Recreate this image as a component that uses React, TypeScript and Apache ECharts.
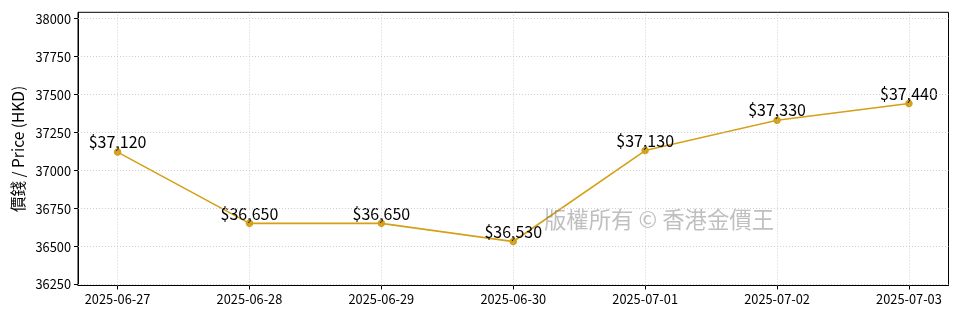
import React, { useEffect, useRef } from "react";
import * as echarts from "echarts";

const dates = ["2025-06-27", "2025-06-28", "2025-06-29", "2025-06-30", "2025-07-01", "2025-07-02", "2025-07-03"];
const prices = [37120, 36650, 36650, 36530, 37130, 37330, 37440];
const yTicks = [36250, 36500, 36750, 37000, 37250, 37500, 37750, 38000];
const yMin = 36240;
const yMax = 38042;
const yTitle = "價錢 / Price (HKD)";
const watermark = "版權所有 © 香港金價王";

const FONT = "'Noto Sans CJK TC', 'Noto Sans', sans-serif";
const GOLD = "#D4A017";
const GRID = "#c4c4c4";

export default function App() {
  const ref = useRef<HTMLDivElement>(null);
  useEffect(() => {
    if (!ref.current) return;
    const chart = echarts.init(ref.current, null, { renderer: "svg" });
    const idx = dates.map((_, i) => i);
    const gridLineStyle = { color: GRID, width: 0.8, type: [1, 2] as any };
    chart.setOption({
      animation: false,
      textStyle: { fontFamily: FONT },
      grid: {
        left: 78,
        right: 11.5,
        top: 12.3,
        bottom: 34.5,
        show: true,
        borderColor: "#000",
        borderWidth: 1,
      },
      xAxis: {
        type: "value",
        min: -0.3,
        max: 6.3,
        splitLine: { show: false },
        axisLine: { show: true, onZero: false, lineStyle: { color: "#000", width: 1 } },
        axisTick: { show: true, customValues: idx, length: 4, lineStyle: { color: "#000" } },
        axisLabel: {
          customValues: idx,
          formatter: (v: number) => dates[Math.round(v)] ?? "",
          color: "#000",
          fontSize: 12.8,
          fontFamily: FONT,
          margin: 7,
        },
      },
      yAxis: {
        type: "value",
        min: yMin,
        max: yMax,
        name: yTitle,
        nameLocation: "middle",
        nameGap: 52,
        nameTextStyle: { color: "#000", fontSize: 15.5, fontFamily: FONT },
        splitLine: { show: false },
        axisLine: { show: true, onZero: false, lineStyle: { color: "#000", width: 1 } },
        axisTick: { show: true, customValues: yTicks, length: 4, lineStyle: { color: "#000" } },
        axisLabel: {
          customValues: yTicks,
          formatter: (v: number) => String(v),
          color: "#000",
          fontSize: 12.8,
          fontFamily: FONT,
          margin: 7,
        },
      },
      graphic: [
        {
          type: "text",
          x: 659,
          y: 218,
          z: 5,
          style: {
            text: watermark,
            fill: "rgba(128,128,128,0.5)",
            font: `22.4px ${FONT}`,
            textAlign: "center",
            textVerticalAlign: "middle",
          },
        },
      ],
      series: [
        {
          type: "line",
          z: 1,
          silent: true,
          data: idx.map((i) => [i, prices[i]]),
          symbol: "none",
          lineStyle: { opacity: 0 },
          markLine: {
            silent: true,
            symbol: "none",
            label: { show: false },
            lineStyle: gridLineStyle,
            data: [
              ...yTicks.map((t) => ({ yAxis: t })),
              ...idx.map((i) => ({ xAxis: i })),
            ],
          },
        },
        {
          type: "line",
          z: 3,
          data: idx.map((i) => [i, prices[i]]),
          symbol: "circle",
          symbolSize: 7.5,
          itemStyle: { color: GOLD },
          lineStyle: { color: GOLD, width: 1.6 },
          label: {
            show: true,
            position: "top",
            distance: -1,
            formatter: (p: any) => "$" + Number(p.value[1]).toLocaleString("en-US"),
            color: "#000",
            fontSize: 16,
            lineHeight: 16,
            fontFamily: FONT,
          },
        },
      ],
    });
    return () => chart.dispose();
  }, []);
  return (
    <div
      ref={ref}
      style={{ position: "fixed", left: 0, top: 0, width: 960, height: 320 }}
    />
  );
}
